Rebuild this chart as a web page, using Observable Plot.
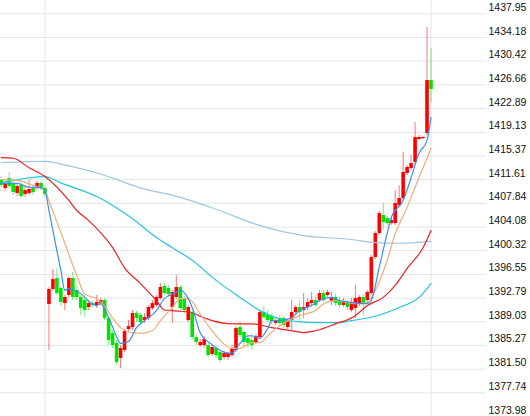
<!DOCTYPE html>
<html><head><meta charset="utf-8">
<script src="https://cdn.jsdelivr.net/npm/d3@7"></script>
<script src="https://cdn.jsdelivr.net/npm/@observablehq/plot@0.6"></script>
<style>
body{margin:0;background:#fff}
#chart svg{display:block;background:linear-gradient(to right,#fff 486px,#f0f0f0 486px)}
</style>
</head><body><div id="chart"></div>
<script>
// candle data: [open, high, low, close], one per bar
const candles = [
[1411.47,1411.94,1410.35,1410.67],[1410.19,1411.47,1409.72,1410.99],[1411.78,1412.74,1410.19,1410.51],
[1410.99,1411.47,1409.08,1409.56],[1409.40,1410.99,1408.92,1410.51],[1410.67,1411.15,1408.61,1408.92],
[1409.24,1410.35,1408.76,1409.88],[1409.40,1411.47,1409.08,1410.04],[1410.19,1410.51,1409.08,1409.56],
[1410.19,1411.31,1409.88,1410.99],[1410.99,1411.31,1409.88,1410.19],[1410.19,1410.51,1408.92,1409.24],
[1391.77,1394.47,1384.46,1394.15],[1394.15,1397.33,1393.83,1395.74],[1395.90,1397.48,1393.20,1393.51],
[1394.31,1394.63,1391.45,1392.08],[1391.92,1393.20,1390.81,1392.88],[1393.20,1396.21,1392.88,1395.90],
[1395.90,1396.85,1392.40,1392.88],[1393.99,1394.63,1392.40,1392.88],[1392.88,1393.20,1390.02,1391.13],
[1392.40,1392.72,1389.70,1390.81],[1391.29,1392.40,1390.81,1391.92],[1391.92,1392.24,1391.29,1391.61],
[1391.61,1393.20,1391.13,1392.08],[1391.92,1392.72,1391.61,1392.40],[1392.40,1392.72,1389.23,1389.54],
[1389.54,1389.86,1385.25,1386.05],[1387.16,1387.64,1384.78,1385.25],[1385.57,1386.05,1382.07,1382.55],
[1383.19,1385.25,1381.60,1384.78],[1384.46,1387.80,1384.14,1387.48],[1387.80,1389.23,1387.48,1388.27],
[1388.11,1390.81,1387.64,1390.34],[1390.34,1390.65,1388.91,1389.54],[1390.02,1390.34,1388.43,1388.91],
[1389.23,1390.34,1388.75,1389.70],[1389.54,1391.61,1389.23,1391.29],[1391.13,1392.40,1390.81,1391.92],
[1391.61,1393.20,1391.29,1392.88],[1392.72,1395.10,1392.40,1394.47],[1394.63,1395.10,1393.20,1393.51],
[1394.31,1394.79,1392.88,1393.35],[1391.29,1393.99,1388.75,1393.67],[1392.88,1396.37,1392.56,1394.47],
[1394.47,1394.79,1390.81,1391.13],[1392.72,1393.04,1390.34,1390.81],[1389.23,1391.61,1388.91,1391.29],
[1390.34,1390.81,1386.05,1386.52],[1386.52,1386.84,1385.25,1385.73],[1385.25,1386.21,1384.94,1385.73],
[1385.25,1386.68,1384.78,1386.21],[1385.25,1385.57,1383.35,1383.66],[1383.82,1385.25,1383.51,1384.94],
[1384.78,1385.09,1383.19,1383.66],[1384.14,1384.46,1382.55,1382.87],[1383.35,1384.30,1383.03,1383.98],
[1383.35,1384.14,1382.87,1383.98],[1383.66,1385.25,1383.35,1384.78],[1384.46,1388.27,1384.14,1387.95],
[1388.11,1388.91,1386.52,1386.84],[1387.32,1387.64,1385.09,1385.73],[1386.37,1386.84,1384.78,1385.57],
[1386.05,1386.52,1384.46,1385.25],[1385.73,1387.00,1385.41,1386.68],[1386.52,1390.81,1386.21,1390.49],
[1390.49,1391.45,1389.38,1389.70],[1390.02,1390.81,1388.91,1389.23],[1389.86,1390.34,1388.59,1389.07],
[1388.75,1389.54,1388.43,1389.23],[1389.54,1390.02,1388.27,1388.75],[1389.54,1389.86,1387.95,1388.43],
[1388.11,1389.54,1387.80,1389.23],[1389.23,1392.40,1387.64,1390.49],[1390.49,1391.61,1390.18,1391.29],
[1391.29,1392.40,1388.91,1390.49],[1390.81,1393.51,1389.54,1391.29],[1391.29,1392.72,1390.81,1392.08],
[1391.92,1393.67,1391.61,1392.40],[1392.40,1392.88,1391.29,1391.61],[1392.40,1393.99,1392.08,1393.51],
[1393.51,1393.99,1392.08,1392.40],[1393.20,1393.99,1392.88,1393.67],[1392.24,1393.67,1391.61,1392.88],
[1392.88,1393.35,1391.45,1391.92],[1392.40,1392.88,1391.13,1391.61],[1391.61,1392.72,1391.29,1392.08],
[1392.08,1392.40,1390.97,1391.29],[1390.81,1392.72,1390.49,1391.92],[1391.13,1394.79,1389.54,1392.72],
[1391.92,1393.20,1391.45,1392.88],[1392.88,1393.35,1390.02,1391.92],[1392.40,1393.99,1392.08,1393.67],
[1393.51,1399.55,1393.20,1399.23],[1399.23,1403.36,1398.91,1403.05],[1403.05,1406.54,1402.73,1406.22],
[1405.91,1407.81,1403.52,1404.79],[1405.43,1405.75,1404.32,1404.63],[1404.63,1405.43,1404.32,1405.11],
[1404.63,1409.88,1404.32,1407.81],[1407.49,1410.67,1407.18,1408.61],[1408.61,1415.91,1408.29,1412.74],
[1412.58,1413.85,1412.26,1413.53],[1413.37,1415.44,1413.05,1414.17],[1414.32,1420.68,1414.01,1418.30],
[1417.98,1418.61,1417.82,1418.30],[1418.14,1418.45,1417.98,1418.30],[1418.93,1435.77,1418.61,1427.35],
[1427.35,1432.43,1423.70,1425.92]
];

// moving averages: [bar index, value]
const ma5 = [[0,1411.0],[4,1411.0],[7,1410.4],[10,1410.35],[11,1409.9],[12,1406.7],[13,1403.5],[14,1400.3],[15,1397.2],[16,1394.0],[17,1394.3],[20,1393.5],[22,1392.3],[24,1391.6],[25,1391.9],[27,1389.7],[29,1386.7],[30,1385.6],[32,1385.9],[34,1388.1],[36,1389.2],[39,1390.8],[41,1392.7],[44,1393.7],[45,1394.0],[48,1391.3],[50,1387.3],[53,1385.4],[56,1384.2],[58,1384.0],[60,1385.6],[62,1386.8],[63,1386.8],[65,1386.4],[67,1388.0],[68,1389.2],[70,1389.2],[73,1389.7],[75,1390.8],[78,1391.6],[80,1392.4],[83,1392.9],[85,1392.4],[88,1392.1],[90,1391.9],[92,1391.9],[93,1392.4],[95,1397.7],[97,1403.1],[98,1405.6],[101,1408.3],[103,1411.9],[105,1415.8],[107,1417.8],[108,1421.5]];
const ma10 = [[0,1411.6],[4,1411.5],[8,1410.7],[11,1409.9],[12,1408.2],[14,1404.9],[16,1401.5],[18,1398.0],[19,1396.4],[21,1393.4],[24,1392.7],[26,1391.5],[28,1389.6],[30,1388.1],[33,1387.3],[35,1387.2],[38,1387.6],[40,1389.2],[43,1391.3],[45,1392.7],[47,1392.7],[50,1390.3],[52,1388.4],[53,1387.6],[55,1386.1],[58,1384.8],[60,1384.8],[63,1385.7],[65,1385.7],[67,1386.8],[69,1387.9],[71,1388.8],[75,1390.0],[79,1390.8],[81,1391.9],[84,1392.4],[87,1392.1],[90,1391.9],[92,1392.1],[94,1394.0],[97,1398.8],[99,1403.0],[102,1407.2],[104,1410.4],[106,1413.5],[108,1416.6]];
const ma20 = [[0,1415.1],[3,1415.0],[7,1413.5],[11,1412.1],[17,1408.3],[19,1406.7],[22,1405.1],[28,1400.8],[31,1397.6],[35,1395.1],[39,1392.4],[41,1390.9],[43,1390.8],[45,1390.7],[48,1390.5],[50,1389.9],[53,1389.2],[58,1388.7],[63,1388.7],[68,1388.1],[74,1387.5],[76,1387.3],[79,1387.6],[84,1388.7],[89,1390.0],[92,1391.6],[96,1392.9],[99,1394.8],[102,1397.5],[106,1400.8],[108,1403.5]];
const ma30 = [[0,1411.1],[3,1411.5],[11,1412.1],[15,1411.1],[25,1408.6],[30,1406.7],[33,1405.4],[39,1402.4],[43,1400.8],[48,1398.8],[54,1395.6],[60,1392.9],[65,1390.8],[70,1389.5],[74,1389.1],[80,1388.9],[85,1388.9],[88,1389.2],[94,1389.9],[100,1391.3],[105,1392.9],[108,1395.1]];
const ma60 = [[0,1414.3],[11,1414.5],[17,1413.8],[25,1412.5],[35,1410.3],[45,1408.8],[54,1406.9],[65,1404.3],[76,1402.7],[88,1402.1],[94,1401.6],[100,1401.5],[108,1401.8]];

const yTicks = [1373.98,1377.74,1381.50,1385.27,1389.03,1392.79,1396.55,1400.32,1404.08,1407.84,1411.61,1415.37,1419.13,1422.89,1426.66,1430.42,1434.18,1437.95];
const separators = [11, 108];

const data = candles.map(([o,h,l,c],i)=>({i,o,h,l,c,up:c>=o}));
const UP="#ff0000", DOWN="#00e400";
const line = (arr, color) => Plot.line(arr, {x:d=>d[0], y:d=>d[1], stroke:color, strokeWidth:1.2, curve:"monotone-x"});

const plot = Plot.plot({
  width:530, height:416,
  marginLeft:0, marginRight:44, marginTop:0, marginBottom:0,
  style:{fontFamily:"'Liberation Sans', Arial, sans-serif", fontSize:"10.5px", color:"#111", background:"transparent"},
  x:{type:"linear", domain:[0,108], range:[0.7,430.5], axis:null},
  y:{type:"linear", domain:[1373.98,1437.95], range:[416,13.3], axis:null},
  marks:[
    Plot.gridY(yTicks, {stroke:"#e4e4e4", strokeOpacity:1}),
    Plot.ruleX(separators, {stroke:"#e4e4e4", strokeWidth:1}),
    Plot.ruleX(data, {x:"i", y1:"l", y2:"h", stroke:d=>d.up?UP:DOWN, strokeOpacity:0.55, strokeWidth:1}),
    Plot.ruleX(data, {x:"i", y1:"o", y2:"c", stroke:d=>d.up?UP:DOWN, strokeWidth:3.6}),
    line(ma60, "#9fc5e2"),
    line(ma30, "#22c8d8"),
    line(ma20, "#ee2020"),
    line(ma10, "#eeae7c"),
    line(ma5, "#3a8ff2"),
    Plot.axisY(yTicks, {anchor:"right", tickSize:0, tickPadding:2, tickFormat:d=>d.toFixed(2), textAnchor:"start", lineAnchor:"bottom", dy:-3, fill:"#111"})
  ]
});
document.getElementById("chart").appendChild(plot);
</script>
</body></html>
